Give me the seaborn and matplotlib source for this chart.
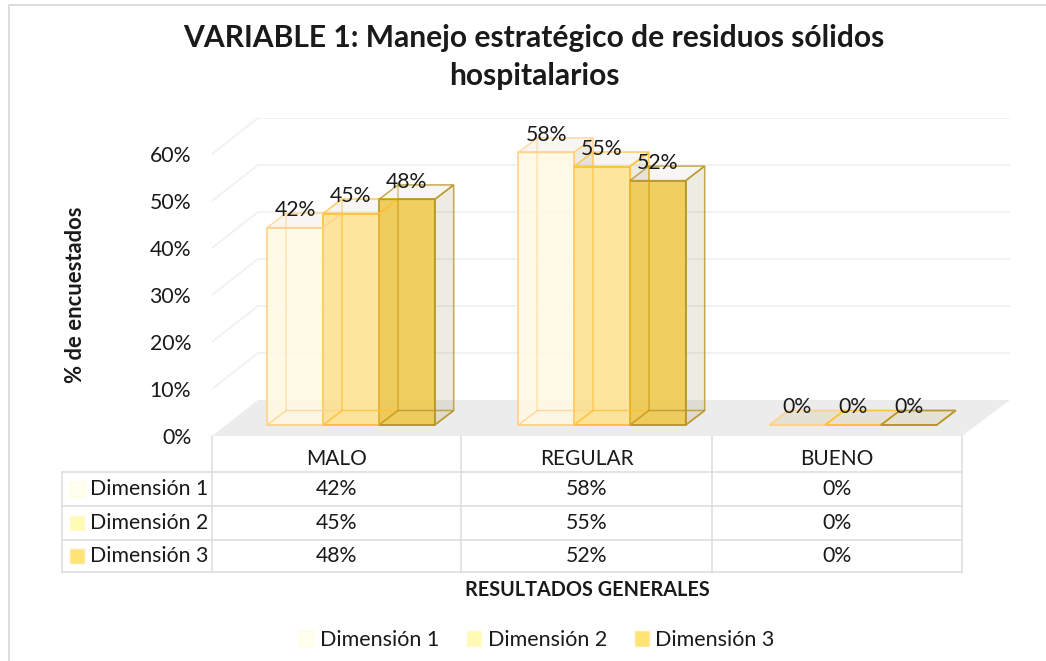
import matplotlib
matplotlib.use("Agg")
import matplotlib.pyplot as plt
from matplotlib.colors import to_rgba
from matplotlib.patches import Patch, Polygon, Rectangle
import pandas as pd
import seaborn as sns

TITLE = "VARIABLE 1: Manejo estratégico de residuos sólidos\nhospitalarios"
CATEGORIES = ["MALO", "REGULAR", "BUENO"]
SERIES = ["Dimensión 1", "Dimensión 2", "Dimensión 3"]
DIM_1 = [42, 58, 0]
DIM_2 = [45, 55, 0]
DIM_3 = [48, 52, 0]
TICKS = [0, 10, 20, 30, 40, 50, 60]

FILLS = ["#FFF9E4", "#FEE493", "#EFC94F"]
EDGES = ["#FFD28C", "#FFC233", "#B8962A"]
KEYS = ["#FFFFF2", "#FFFBB4", "#FFE474"]
KEY_EDGES = ["#FFFFD8", "#FFFAC8", "#FFE9A0"]
TEXT = "#1a1a1a"
GRID = "#f1f1f1"
TABLE_LINE = "#dcdcdc"

W, H = 1046, 661

sns.set_theme(style="white")
plt.rcParams["font.family"] = ["Lato", "DejaVu Sans"]

df = pd.DataFrame({"cat": CATEGORIES * 3,
                   "serie": [s for s in SERIES for _ in CATEGORIES],
                   "valor": DIM_1 + DIM_2 + DIM_3})

fig = plt.figure(figsize=(W / 100, H / 100), dpi=100)

# page overlay in pixels, for the frame and the data table
page = fig.add_axes([0, 0, 1, 1], zorder=0)
page.set_xlim(0, W)
page.set_ylim(H, 0)
page.axis("off")

# plot area: 212..1010 px across, 118..436 px down
ax = fig.add_axes([212 / W, 1 - 436 / H, (1010 - 212) / W, (436 - 118) / H], zorder=1)
ax.patch.set_alpha(0)
PX_X = 251.0          # one category
PX_Y = 4.7            # one percent
DX, DY = 19 / PX_X, 14.5 / PX_Y    # depth of the 3D look
FRONT = -11 / PX_Y                 # front floor edge, where the 0% tick sits
BACK = 25 / PX_Y                   # back wall foot

sns.barplot(data=df, x="cat", y="valor", hue="serie", order=CATEGORIES, hue_order=SERIES,
            palette=FILLS, saturation=1, width=0.667, gap=0, legend=False, ax=ax, zorder=3)

# seaborn resets the category limits, so these go after the barplot
ax.set_xlim(-139 / PX_X, -139 / PX_X + 798 / PX_X)
ax.set_ylim(-11 / PX_Y, -11 / PX_Y + 318 / PX_Y)

x0, x1 = ax.get_xlim()
left, right = x0, x1 - 48 / PX_X

# floor and back wall
ax.add_patch(Polygon([(left, FRONT), (right, FRONT), (x1, BACK), (left + 46 / PX_X, BACK)],
                     closed=True, fc="#ececec", ec="none", zorder=1))
for t in TICKS[1:] + [70]:
    yb = BACK + t
    ax.plot([left + 46 / PX_X, x1], [yb, yb], color=GRID, lw=1.3, zorder=1)
    ax.plot([left, left + 46 / PX_X], [FRONT + t, yb], color=GRID, lw=1.3, zorder=1)

# front faces come from seaborn, depth faces are built from each bar
for fill, edge, cont in zip(FILLS, EDGES, ax.containers):
    for bar in cont:
        xa, xb = bar.get_x(), bar.get_x() + bar.get_width()
        top = bar.get_height()
        bar.set_facecolor(to_rgba(fill, 0.9))
        bar.set_edgecolor(edge)
        bar.set_linewidth(1.2)
        side = [(xb, 0), (xb + DX, DY), (xb + DX, top + DY), (xb, top)]
        roof = [(xa, top), (xa + DX, top + DY), (xb + DX, top + DY), (xb, top)]
        base = [(xa, 0), (xa + DX, DY), (xb + DX, DY), (xb, 0)]
        # tint sits behind the fronts, outlines stay visible through them
        ax.add_patch(Polygon(side, closed=True, fc=to_rgba("#8a7a40", 0.15), ec="none", zorder=2))
        ax.add_patch(Polygon(roof, closed=True, fc=to_rgba("#a08a50", 0.07), ec="none", zorder=2))
        ax.add_patch(Polygon(base, closed=True, fc=to_rgba("#e8dfc0", 0.4), ec="none", zorder=2))
        for face in (side, roof, base):
            ax.add_patch(Polygon(face, closed=True, fc="none", ec=to_rgba(edge, 0.8), lw=1.1, zorder=4))
        ax.plot([xa + DX, xa + DX], [DY, top + DY], color=to_rgba(edge, 0.55), lw=1.1, zorder=4)
    ax.bar_label(cont, fmt="%.0f%%", padding=5.5, fontsize=15.3, color=TEXT, zorder=6)

ax.set_xlabel("")
ax.set_xticks([])
ax.set_ylabel("")
ax.set_yticks([FRONT + t for t in TICKS], [f"{t}%" for t in TICKS])
ax.tick_params(axis="y", length=0, pad=15, labelsize=15.3, labelcolor=TEXT)
sns.despine(ax=ax, left=True, bottom=True)

# chart frame (only top and left reach the picture)
page.plot([9, 9, W], [H, 5, 5], color="#dadada", lw=1.3)

# data table
COL_X = [212, 461, 712, 962]
ROW_Y = [472, 506, 540, 572]
for y in ROW_Y:
    page.plot([62, 962], [y, y], color=TABLE_LINE, lw=1.1)
page.plot([62, 62], [ROW_Y[0], ROW_Y[-1]], color=TABLE_LINE, lw=1.1)
for x in COL_X:
    page.plot([x, x], [436, ROW_Y[-1]], color=TABLE_LINE, lw=1.1)
for j, cat in enumerate(CATEGORIES):
    cx = (COL_X[j] + COL_X[j + 1]) / 2
    page.text(cx, 459, cat, ha="center", va="center", fontsize=15, color=TEXT)
for i, (name, vals) in enumerate(zip(SERIES, [DIM_1, DIM_2, DIM_3])):
    cy = (ROW_Y[i] + ROW_Y[i + 1]) / 2
    page.add_patch(Rectangle((70, cy - 7), 14, 14, fc=KEYS[i], ec=KEY_EDGES[i], lw=1))
    page.text(90, cy, name, ha="left", va="center", fontsize=15.3, color=TEXT)
    for j, v in enumerate(vals):
        page.text((COL_X[j] + COL_X[j + 1]) / 2, cy, f"{v}%", ha="center", va="center",
                  fontsize=15.3, color=TEXT)

page.text(534, 57, TITLE, ha="center", va="center", fontsize=21.6, fontweight="bold",
          color=TEXT, linespacing=1.44)
page.text(75, 295, "% de encuestados", rotation=90, ha="center", va="center", fontsize=15.8,
          fontweight="bold", color=TEXT)
page.text(587, 590, "RESULTADOS GENERALES", ha="center", va="center", fontsize=14.3,
          fontweight="bold", color=TEXT)

handles = [Patch(fc=k, ec=e, label=s) for k, e, s in zip(KEYS, KEY_EDGES, SERIES)]
fig.legend(handles=handles, ncols=3, loc="center", bbox_to_anchor=(537 / W, 1 - 640 / H),
           frameon=False, fontsize=15.5, labelcolor=TEXT, handlelength=0.65, handleheight=0.65,
           handletextpad=0.3, columnspacing=1.3)

fig.savefig("out.png", dpi=100)
